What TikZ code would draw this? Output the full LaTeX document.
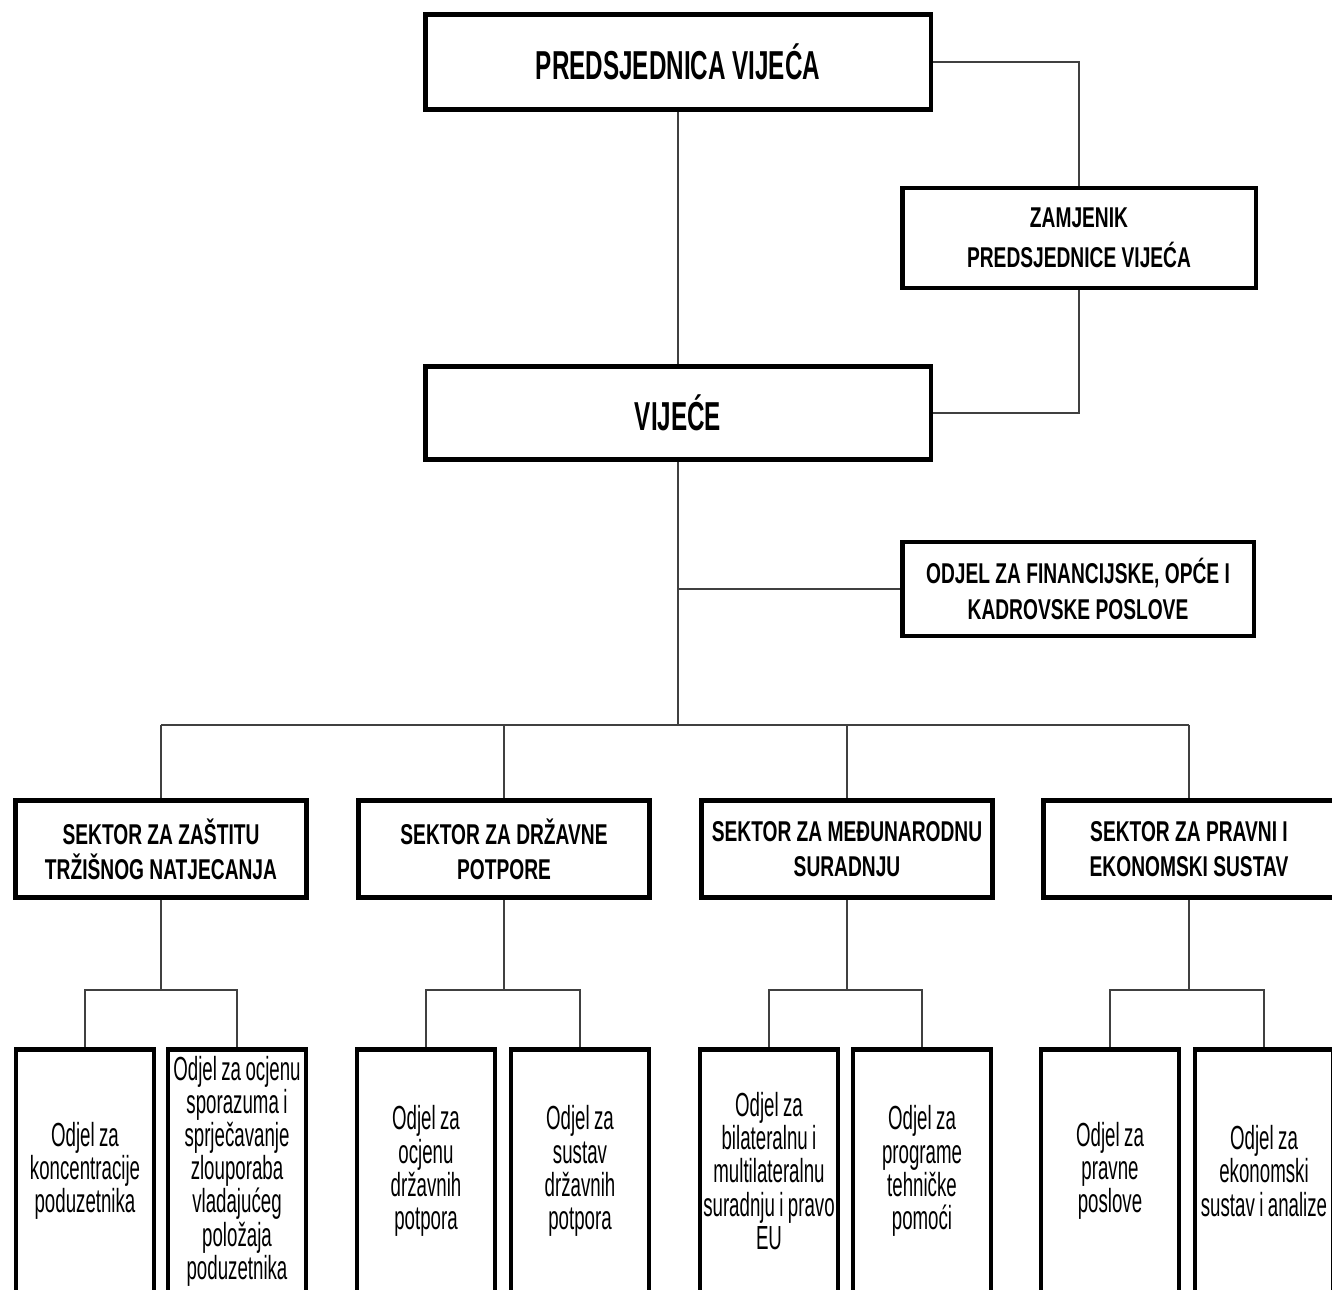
\documentclass[tikz,border=0pt]{standalone}
\usepackage{fontspec}
\newfontfamily\topfont{Liberation Sans}[FakeStretch=0.6]
\newfontfamily\headfont{Liberation Sans}[FakeStretch=0.67]
\newfontfamily\unitfont{Liberation Sans}[FakeStretch=0.56,WordSpace=0.85]

\begin{document}
\begin{tikzpicture}[x=0.02cm,y=-0.02cm,
  box/.style={draw, line width=2.8pt, fill=white, align=center, inner sep=0pt},
  topbox/.style={box, minimum width=10.12cm, font=\topfont\bfseries\fontsize{23}{26}\selectfont},
  headbox/.style={box, font=\headfont\bfseries\fontsize{16.3}{20}\selectfont},
  sectorbox/.style={headbox, minimum width=5.82cm, minimum height=1.94cm},
  unitbox/.style={box, minimum width=2.76cm, minimum height=4.88cm,
    font=\unitfont\fontsize{19}{18.9}\selectfont},
  link/.style={draw=black!75, line width=0.9pt}]
\useasboundingbox (0,0) rectangle (1332,1289);
\clip (0,0) rectangle (1332,1289);

% top of the chart
\node[topbox, minimum height=1.9cm] (pres) at (678,62) {PREDSJEDNICA VIJEĆA};
\node[headbox, minimum width=7.08cm, minimum height=2cm,
  font=\headfont\bfseries\fontsize{16.3}{22.7}\selectfont] (dep) at (1079,238) {ZAMJENIK\\PREDSJEDNICE VIJEĆA};
\node[topbox, minimum height=1.86cm] (council) at (678,413) {VIJEĆE};
\node[headbox, minimum width=7.04cm, minimum height=1.88cm] (fin) at (1078,589) {ODJEL ZA FINANCIJSKE, OPĆE I\\KADROVSKE POSLOVE};

% sectors
\node[sectorbox] (s1) at (161,849) {SEKTOR ZA ZAŠTITU\\TRŽIŠNOG NATJECANJA};
\node[sectorbox] (s2) at (504,849) {SEKTOR ZA DRŽAVNE\\POTPORE};
\node[sectorbox] (s3) at (847,849) {SEKTOR ZA MEĐUNARODNU\\SURADNJU};
\node[sectorbox] (s4) at (1189,849) {SEKTOR ZA PRAVNI I\\EKONOMSKI SUSTAV};

% departments
\node[unitbox] (c11) at (85,1171) {Odjel za\\koncentracije\\poduzetnika};
\node[unitbox] (c12) at (237,1171) {Odjel za ocjenu\\sporazuma i\\sprječavanje\\zlouporaba\\vladajućeg\\položaja\\poduzetnika};
\node[unitbox] (c21) at (426,1171) {Odjel za\\ocjenu\\državnih\\potpora};
\node[unitbox] (c22) at (580,1171) {Odjel za\\sustav\\državnih\\potpora};
\node[unitbox] (c31) at (769,1171) {Odjel za\\bilateralnu i\\multilateralnu\\suradnju i pravo\\EU};
\node[unitbox] (c32) at (922,1171) {Odjel za\\programe\\tehničke\\pomoći};
\node[unitbox] (c41) at (1110,1171) {Odjel za\\pravne\\poslove};
\node[unitbox] (c42) at (1264,1171) {Odjel za\\ekonomski\\sustav i analize};

% connectors
\draw[link] (pres.east) -| (dep.north);
\draw[link] (dep.south) |- (council.east);
\draw[link] (pres.south) -- (council.north);
\coordinate (bus) at (678,725);
\coordinate (fork) at (0,990);
\draw[link] (council.south) -- (bus);
\draw[link] (council.south |- fin.west) -- (fin.west);
\draw[link] (s1.north |- bus) -- (s4.north |- bus);
\foreach \s/\a/\b in {s1/c11/c12, s2/c21/c22, s3/c31/c32, s4/c41/c42} {
  \draw[link] (\s.north) -- (\s.north |- bus);
  \draw[link] (\s.south) -- (\s.south |- fork);
  \draw[link] (\a.north) |- (\s.south |- fork) -| (\b.north);
}
\end{tikzpicture}
\end{document}
